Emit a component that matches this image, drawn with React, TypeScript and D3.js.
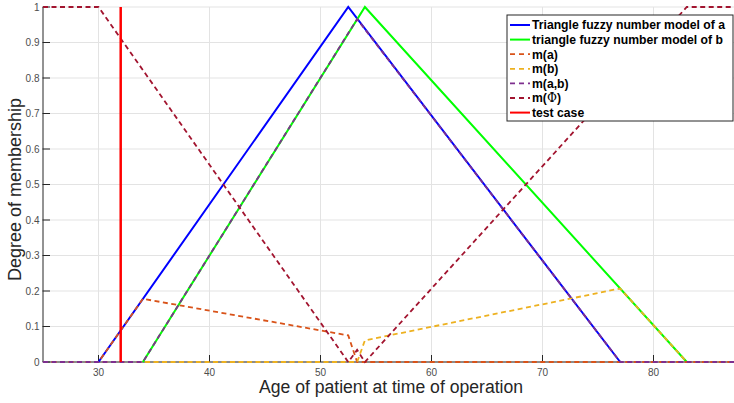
import { useEffect, useRef } from "react";
import * as d3 from "d3";

type Pt = [number, number];

// triangle fuzzy numbers
const triA: Pt[] = [[30, 0], [52.5, 1], [77, 0]];
const triB: Pt[] = [[34, 0], [54, 1], [83, 0]];
// mass functions
const massA: Pt[] = [[25, 0], [30, 0], [34, 0.178], [52.5, 0.075], [53.3, 0], [88, 0]];
const massB: Pt[] = [[25, 0], [53.3, 0], [54, 0.061], [77, 0.207], [83, 0], [88, 0]];
const massAB: Pt[] = [[25, 0], [34, 0], [53.3, 0.966], [77, 0], [88, 0]];
const massPhi: Pt[] = [[25, 1], [30, 1], [52.5, 0], [53.3, 0.034], [54, 0], [83, 1], [88, 1]];
const testCase = 32;

const xTicks = [30, 40, 50, 60, 70, 80];
const yTicks = [0, 0.1, 0.2, 0.3, 0.4, 0.5, 0.6, 0.7, 0.8, 0.9, 1];

const series = [
  { label: "Triangle fuzzy number model of a", data: triA, color: "#0000ff", dash: null },
  { label: "triangle fuzzy number model of b", data: triB, color: "#00ff00", dash: null },
  { label: "m(a)", data: massA, color: "#D95319", dash: "5,3.5" },
  { label: "m(b)", data: massB, color: "#EDB120", dash: "5,3.5" },
  { label: "m(a,b)", data: massAB, color: "#7E2F8E", dash: "5,3.5" },
  { label: "m(Φ)", data: massPhi, color: "#A2142F", dash: "5,3.5" },
];

const W = 734;
const H = 403;

const App = () => {
  const svgRef = useRef<SVGSVGElement>(null);

  useEffect(() => {
    const svg = d3.select(svgRef.current);
    svg.selectAll("*").remove();

    const x = d3.scaleLinear().domain([25, 88]).range([43, 742.3]);
    const y = d3.scaleLinear().domain([0, 1]).range([362, 7]);
    const font = "Liberation Sans, Arial, sans-serif";

    svg.append("rect").attr("width", W).attr("height", H).attr("fill", "#fff");

    // grid
    const grid = svg.append("g").attr("stroke", "#e3e3e3").attr("stroke-width", 1);
    grid.selectAll(".gx").data(xTicks).join("line")
      .attr("x1", (d) => x(d)).attr("x2", (d) => x(d)).attr("y1", y(0)).attr("y2", y(1));
    grid.selectAll(".gy").data(yTicks).join("line")
      .attr("x1", x(25)).attr("x2", W).attr("y1", (d) => y(d)).attr("y2", (d) => y(d));

    // axes
    const axisG = svg.append("g").attr("stroke", "#262626").attr("stroke-width", 1);
    axisG.append("line").attr("x1", x(25)).attr("x2", W).attr("y1", y(0)).attr("y2", y(0));
    axisG.append("line").attr("x1", x(25)).attr("x2", x(25)).attr("y1", y(0)).attr("y2", y(1));
    axisG.selectAll(".tx").data(xTicks).join("line")
      .attr("x1", (d) => x(d)).attr("x2", (d) => x(d)).attr("y1", y(0)).attr("y2", y(0) - 7);
    axisG.selectAll(".ty").data(yTicks).join("line")
      .attr("x1", x(25) - 0.5).attr("x2", x(25) + 7).attr("y1", (d) => y(d)).attr("y2", (d) => y(d));

    svg.append("g").selectAll("text").data(xTicks).join("text")
      .attr("x", (d) => x(d)).attr("y", 375.5)
      .attr("text-anchor", "middle").attr("font-family", font).attr("font-size", 10)
      .attr("fill", "#4d4d4d").text((d) => d);
    svg.append("g").selectAll("text").data(yTicks).join("text")
      .attr("x", 39.5).attr("y", (d) => y(d) + 3.5)
      .attr("text-anchor", "end").attr("font-family", font).attr("font-size", 10)
      .attr("fill", "#4d4d4d").text((d) => d3.format("~g")(d));

    svg.append("text").attr("x", 391).attr("y", 393).attr("text-anchor", "middle")
      .attr("font-family", font).attr("font-size", 17.6).attr("fill", "#262626")
      .text("Age of patient at time of operation");
    svg.append("text").attr("transform", "translate(21,189.5) rotate(-90)").attr("text-anchor", "middle")
      .attr("font-family", font).attr("font-size", 18).attr("fill", "#262626")
      .text("Degree of membership");

    const line = d3.line<Pt>().x((d) => x(d[0])).y((d) => y(d[1]));
    const lines = svg.append("g");
    series.forEach((s) => {
      lines.append("path").attr("d", line(s.data))
        .attr("fill", "none").attr("stroke", s.color)
        .attr("stroke-width", s.dash ? 1.8 : 2)
        .attr("stroke-dasharray", s.dash);
    });
    lines.append("line")
      .attr("x1", x(testCase)).attr("x2", x(testCase)).attr("y1", y(0)).attr("y2", y(1))
      .attr("stroke", "#ff0000").attr("stroke-width", 2.5);

    // legend
    const legendItems = [...series, { label: "test case", color: "#ff0000", dash: null }];
    const lg = svg.append("g").attr("transform", "translate(507,15)");
    lg.append("rect").attr("width", 226).attr("height", 106)
      .attr("fill", "#fff").attr("stroke", "#262626").attr("stroke-width", 1);
    legendItems.forEach((it, i) => {
      const cy = 10 + i * 14.6;
      lg.append("line").attr("x1", 3).attr("x2", 23).attr("y1", cy).attr("y2", cy)
        .attr("stroke", it.color).attr("stroke-width", it.dash ? 1.8 : 2)
        .attr("stroke-dasharray", it.dash ? "5,4" : null);
      const t = lg.append("text").attr("x", 25).attr("y", cy + 4.3)
        .attr("font-family", font).attr("font-size", 12.2).attr("font-weight", "bold")
        .attr("fill", "#000");
      if (it.label === "m(Φ)") {
        t.append("tspan").text("m(");
        t.append("tspan").attr("font-family", "DejaVu Serif, serif").attr("font-weight", "normal").text("Φ");
        t.append("tspan").text(")");
      } else {
        t.text(it.label);
      }
    });
  }, []);

  return (
    <div style={{ position: "fixed", left: 0, top: 0 }}>
      <svg ref={svgRef} width={W} height={H} style={{ display: "block" }} />
    </div>
  );
};

export default App;
